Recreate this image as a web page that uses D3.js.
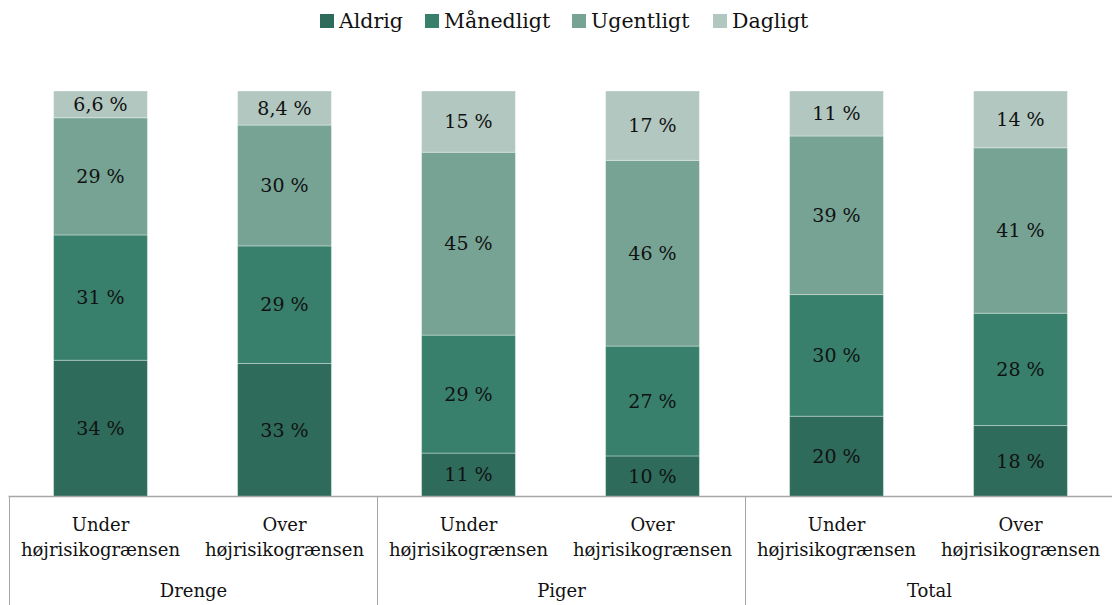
<!DOCTYPE html>
<html>
<head>
<meta charset="utf-8">
<script src="https://cdn.jsdelivr.net/npm/d3@7"></script>
<style>
  body { margin: 0; background: #fff; }
  svg { display: block; font-family: "DejaVu Serif", serif; }
</style>
</head>
<body>
<div id="chart"></div>
<script>
// series and categories
var seriesNames = ['Aldrig', 'Månedligt', 'Ugentligt', 'Dagligt'];
var groupNames = ['Drenge', 'Piger', 'Total'];
var subNames = ['Under', 'Over'];
var subSecond = 'højrisikogrænsen';

// values per bar (Drenge under/over, Piger under/over, Total under/over), in %
var aldrig    = [33.6, 32.8, 10.7, 10.0, 19.8, 17.5];
var maanedligt = [30.9, 29.0, 29.1, 27.1, 30.0, 27.7];
var ugentligt = [28.9, 29.8, 45.1, 45.8, 39.1, 40.8];
var dagligt   = [6.6, 8.4, 15.1, 17.1, 11.1, 14.0];

var colors = ['#2e6b5a', '#38806c', '#76a394', '#b2c7c0'];

var W = 1112, H = 605;
var plotLeft = 8.5, plotRight = 1112.5, plotTop = 91, plotBottom = 496.5;

var rows = [];
groupNames.forEach(function (g, gi) {
  subNames.forEach(function (s, si) {
    var i = gi * 2 + si;
    rows.push({
      id: g + '-' + s, group: g, sub: s,
      'Aldrig': aldrig[i], 'Månedligt': maanedligt[i],
      'Ugentligt': ugentligt[i], 'Dagligt': dagligt[i]
    });
  });
});

var stacked = d3.stack().keys(seriesNames)(rows);

var x = d3.scaleBand()
  .domain(rows.map(function (d) { return d.id; }))
  .range([plotLeft, plotRight])
  .paddingInner(0.49)
  .paddingOuter(0.245);

var y = d3.scaleLinear().domain([0, 100]).range([plotBottom, plotTop]);

var color = d3.scaleOrdinal().domain(seriesNames).range(colors);

var fmt = function (v) {
  if (v < 9.95) return d3.format('.1f')(v).replace('.', ',') + ' %';
  return Math.round(v) + ' %';
};

var svg = d3.select('#chart').append('svg')
  .attr('width', W)
  .attr('height', H);

// bars
var layer = svg.selectAll('g.layer')
  .data(stacked)
  .enter().append('g')
  .attr('class', 'layer')
  .attr('fill', function (d) { return color(d.key); });

layer.selectAll('rect')
  .data(function (d) { return d; })
  .enter().append('rect')
  .attr('x', function (d) { return x(d.data.id); })
  .attr('width', x.bandwidth())
  .attr('y', function (d) { return y(d[1]); })
  .attr('height', function (d) { return y(d[0]) - y(d[1]); })
  .attr('stroke', 'rgba(255,255,255,0.35)')
  .attr('stroke-width', 1);

// value labels
layer.selectAll('text')
  .data(function (d) { return d; })
  .enter().append('text')
  .attr('x', function (d) { return x(d.data.id) + x.bandwidth() / 2; })
  .attr('y', function (d) { return (y(d[0]) + y(d[1])) / 2; })
  .attr('dy', '0.35em')
  .attr('text-anchor', 'middle')
  .attr('fill', '#111')
  .style('font-size', '19px')
  .text(function (d) { return fmt(d[1] - d[0]); });

// axis line + group separators
var axisColor = '#a6a6a6';
svg.append('line')
  .attr('x1', plotLeft).attr('x2', plotRight)
  .attr('y1', plotBottom).attr('y2', plotBottom)
  .attr('stroke', axisColor).attr('stroke-width', 1.5);

var step = x.step();
var groupEdges = d3.range(groupNames.length + 1).map(function (i) {
  return Math.round(plotLeft + i * step * 2) + 0.5;
});
svg.selectAll('line.sep')
  .data(groupEdges)
  .enter().append('line')
  .attr('class', 'sep')
  .attr('x1', function (d) { return d; })
  .attr('x2', function (d) { return d; })
  .attr('y1', plotBottom).attr('y2', H)
  .attr('stroke', axisColor).attr('stroke-width', 1);

// category labels
var cat = svg.selectAll('text.cat')
  .data(rows)
  .enter().append('text')
  .attr('class', 'cat')
  .attr('text-anchor', 'middle')
  .attr('fill', '#111')
  .style('font-size', '18px');
cat.append('tspan')
  .attr('x', function (d) { return x(d.id) + x.bandwidth() / 2; })
  .attr('y', 531)
  .text(function (d) { return d.sub; });
cat.append('tspan')
  .attr('x', function (d) { return x(d.id) + x.bandwidth() / 2; })
  .attr('y', 556)
  .text(subSecond);

svg.selectAll('text.grp')
  .data(groupNames)
  .enter().append('text')
  .attr('class', 'grp')
  .attr('text-anchor', 'middle')
  .attr('fill', '#111')
  .style('font-size', '18px')
  .attr('x', function (d, i) { return (groupEdges[i] + groupEdges[i + 1]) / 2; })
  .attr('y', 597)
  .text(function (d) { return d; });

// legend
var legendX = [320, 425, 572, 713];
var legend = svg.selectAll('g.legend')
  .data(seriesNames)
  .enter().append('g')
  .attr('class', 'legend')
  .attr('transform', function (d, i) { return 'translate(' + legendX[i] + ',0)'; });
legend.append('rect')
  .attr('x', 0).attr('y', 14)
  .attr('width', 14).attr('height', 14)
  .attr('fill', function (d) { return color(d); });
legend.append('text')
  .attr('x', 19).attr('y', 28)
  .attr('fill', '#111')
  .style('font-size', '20.5px')
  .text(function (d) { return d; });
</script>
</body>
</html>
